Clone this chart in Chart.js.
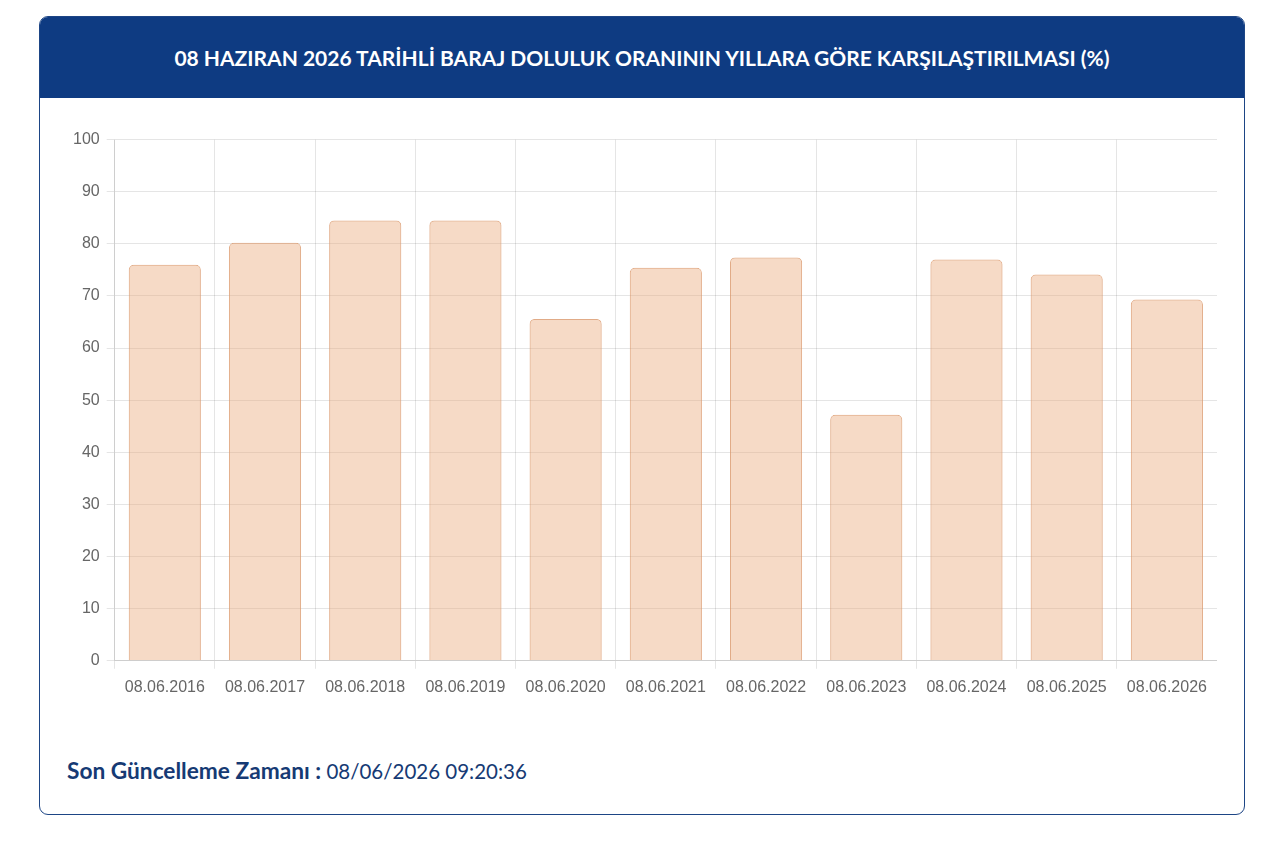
<!DOCTYPE html>
<html>
<head>
<meta charset="utf-8">
<script src="https://cdn.jsdelivr.net/npm/chart.js@4"></script>
<style>
  html, body { margin: 0; padding: 0; background: #fff; }
  body { width: 1280px; height: 842px; position: relative; font-family: Lato, "Noto Sans", sans-serif; }
  .card {
    position: absolute; left: 39px; top: 16px; width: 1204px; height: 797px;
    border: 1px solid #1d4585; border-radius: 9px; overflow: hidden; background: #fff;
  }
  .card-head {
    height: 81px; background: #0e3b82; color: #fff;
    display: flex; align-items: center; justify-content: center;
    font-weight: 700; font-size: 21px;
  }
  .chart-box { position: absolute; left: 26px; top: 106px; width: 1151px; height: 583px; }
  .footer {
    position: absolute; left: 27px; top: 740px;
    font-size: 20.5px; color: #163a74;
  }
  .footer b { font-weight: 700; font-size: 22.7px; }
</style>
</head>
<body>
<div class="card">
  <div class="card-head">08 HAZIRAN 2026 TARİHLİ BARAJ DOLULUK ORANININ YILLARA GÖRE KARŞILAŞTIRILMASI (%)</div>
  <div class="chart-box"><canvas id="chart"></canvas></div>
  <div class="footer"><b>Son Güncelleme Zamanı :</b> 08/06/2026 09:20:36</div>
</div>
<script>
const dates = ['08.06.2016', '08.06.2017', '08.06.2018', '08.06.2019', '08.06.2020', '08.06.2021',
  '08.06.2022', '08.06.2023', '08.06.2024', '08.06.2025', '08.06.2026'];
const fillRates = [76.0, 80.2, 84.5, 84.5, 65.6, 75.4, 77.4, 47.2, 77.0, 74.1, 69.3];
const yTicks = [0, 10, 20, 30, 40, 50, 60, 70, 80, 90, 100];

const tickFont = { family: '"Liberation Sans", Arial, sans-serif', size: 16 };

new Chart(document.getElementById('chart'), {
  type: 'bar',
  data: {
    labels: dates,
    datasets: [{
      label: 'Doluluk (%)',
      data: fillRates,
      backgroundColor: 'rgba(232, 162, 112, 0.4)',
      borderColor: 'rgba(218, 150, 105, 0.8)',
      borderWidth: 1,
      borderRadius: 5,
      borderSkipped: 'bottom'
    }]
  },
  options: {
    responsive: true,
    maintainAspectRatio: false,
    animation: false,
    plugins: {
      legend: { display: false },
      tooltip: { enabled: false }
    },
    scales: {
      x: {
        grid: { color: 'rgba(0,0,0,0.1)' },
        ticks: { color: '#666', font: tickFont, maxRotation: 0, padding: 9 }
      },
      y: {
        min: yTicks[0],
        max: yTicks[yTicks.length - 1],
        grid: { color: 'rgba(0,0,0,0.1)' },
        ticks: { stepSize: 10, color: '#666', font: tickFont, padding: 7 }
      }
    }
  }
});
</script>
</body>
</html>
